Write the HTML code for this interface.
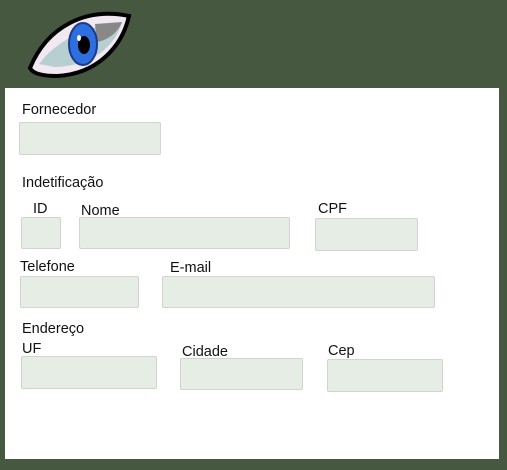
<!DOCTYPE html>
<html><head><style>
body{margin:0;width:507px;height:470px;background:#465840;position:relative;overflow:hidden;font-family:"Liberation Sans",sans-serif;}
.panel{position:absolute;left:5px;top:88px;width:494px;height:371px;background:#fff;}
.f{position:absolute;background:#e6ede4;border:1px solid #d0d4ce;border-radius:2px;box-sizing:border-box;}
.l{position:absolute;font-size:14.5px;color:#111;line-height:1;}
</style></head><body>
<svg style="position:absolute;left:25px;top:2px" width="110" height="78" viewBox="0 0 110 78">
<path d="M5 66 C22 25 60 5 104 14 C97 45 72 72 32 74 C18 74 8 72 5 66Z" fill="#f2e8f2" stroke="#000" stroke-width="4"/>
<path d="M14 62 C30 40 60 24 97 20 C90 45 66 64 30 65Z" fill="#b7cfd0"/>
<path d="M70 22 L97 20 C92 32 82 38 72 40Z" fill="#888"/>
<ellipse cx="58" cy="42" rx="14" ry="21" fill="#2e6fe0" stroke="#1b3a8a" stroke-width="2"/>
<ellipse cx="59" cy="43" rx="6" ry="9" fill="#000"/>
<ellipse cx="54" cy="36" rx="2" ry="3" fill="#fff"/>
</svg>
<div class="panel"></div>
<div class="l" style="left:22px;top:103px">Fornecedor</div>
<div class="f" style="left:19px;top:122px;width:142px;height:33px"></div>
<div class="l" style="left:22px;top:176px">Indetificação</div>
<div class="l" style="left:33px;top:202px">ID</div>
<div class="l" style="left:81px;top:204px">Nome</div>
<div class="l" style="left:318px;top:202px">CPF</div>
<div class="f" style="left:21px;top:217px;width:40px;height:32px"></div>
<div class="f" style="left:79px;top:217px;width:211px;height:32px"></div>
<div class="f" style="left:315px;top:218px;width:103px;height:33px"></div>
<div class="l" style="left:20px;top:260px">Telefone</div>
<div class="l" style="left:170px;top:261px">E-mail</div>
<div class="f" style="left:20px;top:276px;width:119px;height:32px"></div>
<div class="f" style="left:162px;top:276px;width:273px;height:32px"></div>
<div class="l" style="left:22px;top:322px">Endereço</div>
<div class="l" style="left:22px;top:342px">UF</div>
<div class="l" style="left:182px;top:345px">Cidade</div>
<div class="l" style="left:328px;top:344px">Cep</div>
<div class="f" style="left:21px;top:356px;width:136px;height:33px"></div>
<div class="f" style="left:180px;top:358px;width:123px;height:32px"></div>
<div class="f" style="left:327px;top:359px;width:116px;height:33px"></div>
</body></html>
